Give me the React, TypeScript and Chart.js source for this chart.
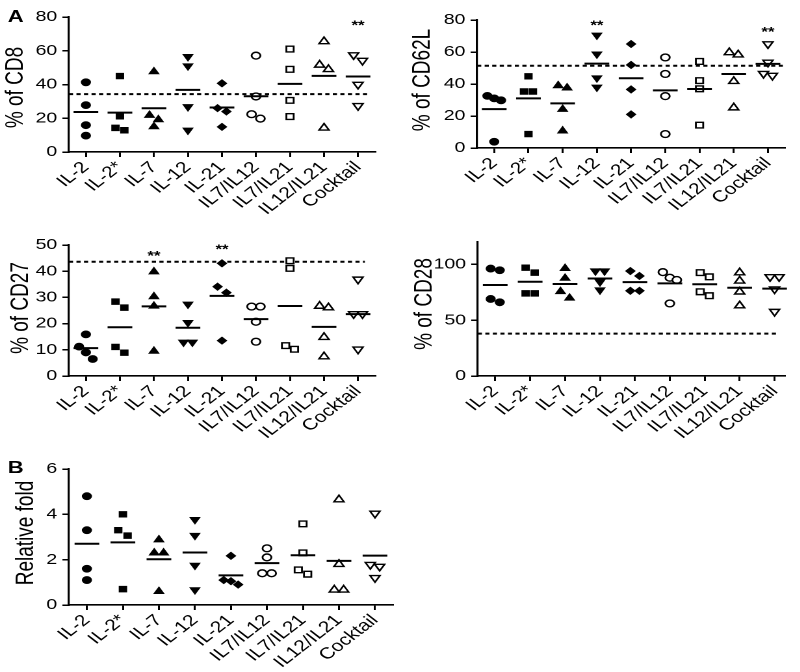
import React, { useEffect, useRef } from "react";
import { Chart, registerables } from "chart.js";

Chart.register(...registerables);
Chart.defaults.font.family = "'Liberation Sans', Arial, Helvetica, sans-serif";
Chart.defaults.font.size = 16;
Chart.defaults.color = "#000";

// ---------------- DATA ----------------
const categories = ["IL-2", "IL-2*", "IL-7", "IL-12", "IL-21", "IL7/IL12", "IL7/IL21", "IL12/IL21", "Cocktail"];

const cd8Values = [
  [41.3, 27.8, 15.9, 9.7],
  [45, 21.2, 14.3, 12.9],
  [47.6, 21.8, 19.2, 15],
  [56.5, 51, 26.8, 12.9],
  [40.7, 26, 24, 14.9],
  [57.1, 32.9, 22.4, 19.8],
  [61, 49, 30.6, 21],
  [65.5, 51.6, 49, 14.3],
  [57.5, 54.2, 40, 27.4],
];
const cd8Ref = 34.3;
const cd8StarCats = [8];
const cd8StarY = [76.4];

const cd62lValues = [
  [32.6, 31, 29.8, 3.9],
  [44.8, 35.3, 35.3, 8.7],
  [39, 37.6, 24.2, 10.7],
  [70.5, 58.7, 43.8, 38],
  [65, 51.9, 36.6, 21],
  [56.6, 46.3, 32.4, 8.7],
  [54.1, 42.1, 37, 14.3],
  [59.7, 58.3, 41.7, 25.2],
  [65, 53.5, 46.5, 45.3],
];
const cd62lRef = 51.4;
const cd62lStarCats = [3, 8];
const cd62lStarY = [78.3, 74.2];

const cd27Values = [
  [15.9, 11.2, 9, 6.5],
  [28.4, 26.1, 11.1, 8.9],
  [39.8, 30.3, 26.7, 9.5],
  [27.4, 20.4, 12.9, 12.9],
  [43, 34.1, 31.8, 13.5],
  [26.5, 26.5, 20.7, 13.1],
  [44, 41.1, 11.6, 10.2],
  [26.7, 26.1, 14.8, 7.4],
  [36.9, 23.7, 23.7, 10.2],
];
const cd27Ref = 43.6;
const cd27StarCats = [2, 4];
const cd27StarY = [46.8, 49.2];

const cd28Values = [
  [96.2, 94.7, 69, 66],
  [97, 92.6, 74, 74],
  [96.4, 87.6, 75.7, 69.8],
  [94, 94, 84.3, 77],
  [94, 89.6, 76.3, 76.3],
  [93, 88, 86, 65],
  [92.6, 88.8, 75.4, 71.9],
  [92.6, 85.2, 75.4, 63],
  [88.8, 88.8, 77.8, 57.7],
];
const cd28Ref = 37.9;

const foldValues = [
  [4.8, 3.3, 1.6, 1.1],
  [4.0, 3.3, 3.06, 0.7],
  [2.88, 2.3, 2.3, 0.6],
  [3.77, 3.07, 1.75, 0.67],
  [2.17, 1.1, 1.05, 0.9],
  [2.5, 2.1, 1.4, 1.4],
  [3.58, 2.3, 1.55, 1.36],
  [4.65, 1.8, 0.67, 0.67],
  [4.04, 1.78, 1.7, 1.2],
];

const ticksCD8 = [0, 20, 40, 60, 80];
const ticksCD27 = [0, 10, 20, 30, 40, 50];
const ticksCD28 = [0, 50, 100];
const ticksFold = [0, 2, 4, 6];

// ---------------- STYLE ----------------
const STRETCH = 1.3;
const INNER_W = 800 / STRETCH;
const FONT = "'Liberation Sans', Arial, Helvetica, sans-serif";
const TITLE_SIZE = 19;

const markerStyles = [
  { style: "circle", fill: true, rot: 0, r: 3.5 },
  { style: "rect", fill: true, rot: 0, r: 4.0 },
  { style: "triangle", fill: true, rot: 0, r: 4.4 },
  { style: "triangle", fill: true, rot: 180, r: 4.4 },
  { style: "rectRot", fill: true, rot: 0, r: 3.6 },
  { style: "circle", fill: false, rot: 0, r: 3.4 },
  { style: "rect", fill: false, rot: 0, r: 4.0 },
  { style: "triangle", fill: false, rot: 0, r: 4.4 },
  { style: "triangle", fill: false, rot: 180, r: 4.4 },
];

type Spec = {
  box: { left: number; top: number; w: number; h: number };
  padTop: number;
  padRight: number;
  yAxisW: number;
  xAxisH: number;
  values: number[][];
  yMax: number;
  yTicks: number[];
  title: string;
  titleX: number;
  titleYOff: number;
  xMax: number;
  ref?: number;
  refEnd?: number;
  starCats?: number[];
  starY?: number[];
};

function jitter(vals: number[], thr: number): number[] {
  const idx = vals.map((_, i) => i).sort((a, b) => vals[b] - vals[a]);
  const offs = new Array(vals.length).fill(0);
  let cluster: number[] = [];
  const flush = () => {
    const n = cluster.length;
    if (n === 2) {
      offs[cluster[0]] = -0.13;
      offs[cluster[1]] = 0.13;
    } else if (n >= 3) {
      cluster.forEach((id, k) => (offs[id] = (k - (n - 1) / 2) * 0.2));
    }
    cluster = [];
  };
  idx.forEach((i) => {
    if (cluster.length && vals[cluster[cluster.length - 1]] - vals[i] >= thr) flush();
    cluster.push(i);
  });
  flush();
  return offs;
}

const mean = (a: number[]) => a.reduce((s, v) => s + v, 0) / a.length;

function buildConfig(s: Spec): any {
  const plotH = s.box.h - s.padTop - s.xAxisH;
  const thr = (s.yMax * 7) / plotH;
  const datasets: any[] = [];
  s.values.forEach((vals, ci) => {
    const offs = jitter(vals, thr);
    const st = markerStyles[ci];
    datasets.push({
      data: vals.map((v, k) => ({ x: ci + offs[k], y: v })),
      pointStyle: st.style,
      pointRotation: st.rot,
      pointRadius: st.r,
      pointBackgroundColor: st.fill ? "#000" : "#fff",
      pointBorderColor: "#000",
      pointBorderWidth: st.fill ? 0.8 : 1.4,
      showLine: false,
      clip: false,
      order: 1,
    });
  });
  datasets.push({
    data: s.values.map((vals, ci) => ({ x: ci, y: mean(vals) })),
    pointStyle: "line",
    pointRadius: 9.5,
    pointBorderWidth: 2,
    pointBorderColor: "#000",
    showLine: false,
    clip: false,
    order: 0,
  });
  if (s.ref !== undefined) {
    datasets.push({
      data: [
        { x: -0.5, y: s.ref },
        { x: s.refEnd, y: s.ref },
      ],
      showLine: true,
      borderColor: "#000",
      borderWidth: 2,
      borderDash: [3.2, 2.6],
      pointRadius: 0,
      clip: false,
      order: 2,
    });
  }

  const annotPlugin = {
    id: "annot",
    afterDatasetsDraw(chart: any) {
      const { ctx, scales, chartArea } = chart;
      ctx.save();
      ctx.fillStyle = "#000";
      if (s.starCats) {
        ctx.font = `bold 13px ${FONT}`;
        ctx.textAlign = "center";
        ctx.textBaseline = "middle";
        s.starCats.forEach((c, i) => {
          ctx.fillText("**", scales.x.getPixelForValue(c), scales.y.getPixelForValue(s.starY![i]) + 3);
        });
      }
      ctx.font = `${TITLE_SIZE}px ${FONT}`;
      ctx.translate(s.titleX, (chartArea.top + chartArea.bottom) / 2 + s.titleYOff);
      ctx.rotate(-Math.PI / 2);
      ctx.textAlign = "center";
      ctx.textBaseline = "middle";
      ctx.fillText(s.title, 0, 0);
      ctx.restore();
    },
  };

  return {
    type: "scatter",
    data: { datasets },
    plugins: [annotPlugin],
    options: {
      animation: false,
      responsive: true,
      maintainAspectRatio: false,
      devicePixelRatio: 2,
      events: [],
      layout: { padding: { top: s.padTop, right: s.padRight, left: 0, bottom: 0 } },
      plugins: { legend: { display: false }, tooltip: { enabled: false } },
      scales: {
        x: {
          type: "linear",
          min: -0.5,
          max: s.xMax,
          bounds: "data",
          afterBuildTicks: (sc: any) => {
            sc.ticks = categories.map((_, i) => ({ value: i }));
          },
          afterFit: (sc: any) => {
            sc.height = s.xAxisH;
          },
          ticks: {
            autoSkip: false,
            minRotation: 45,
            maxRotation: 45,
            padding: 1,
            color: "#000",
            font: { family: FONT, size: 16 },
            callback: (v: number) => categories[v] ?? "",
          },
          grid: { drawOnChartArea: false, drawTicks: true, tickLength: 5, color: "#000", tickColor: "#000", lineWidth: 1.5 },
          border: { display: true, color: "#000", width: 1.6 },
        },
        y: {
          type: "linear",
          min: 0,
          max: s.yMax,
          bounds: "data",
          afterBuildTicks: (sc: any) => {
            sc.ticks = s.yTicks.map((v) => ({ value: v }));
          },
          afterFit: (sc: any) => {
            sc.width = s.yAxisW;
          },
          ticks: { padding: 4, color: "#000", font: { family: FONT, size: 15 }, callback: (v: number) => String(v) },
          grid: { drawOnChartArea: false, drawTicks: true, tickLength: 5, color: "#000", tickColor: "#000", lineWidth: 1.5 },
          border: { display: true, color: "#000", width: 1.6 },
          title: { display: false },
        },
      },
    },
  };
}

const specs: Spec[] = [
  {
    box: { left: 0, top: 0, w: 300, h: 225 },
    padTop: 17, padRight: 9, yAxisW: 53, xAxisH: 73,
    values: cd8Values, yMax: 80, yTicks: ticksCD8, title: "% of CD8", titleX: 12.5, titleYOff: 3,
    xMax: 8.5, ref: cd8Ref, refEnd: 8.27, starCats: cd8StarCats, starY: cd8StarY,
  },
  {
    box: { left: 310, top: 0, w: INNER_W - 310, h: 225 },
    padTop: 20, padRight: INNER_W - 611.5, yAxisW: 57, xAxisH: 77,
    values: cd62lValues, yMax: 80, yTicks: ticksCD8, title: "% of CD62L", titleX: 15.5, titleYOff: -4,
    xMax: 8.5, ref: cd62lRef, refEnd: 8.5, starCats: cd62lStarCats, starY: cd62lStarY,
  },
  {
    box: { left: 0, top: 225, w: 300, h: 225 },
    padTop: 20, padRight: 11.5, yAxisW: 53, xAxisH: 74,
    values: cd27Values, yMax: 50, yTicks: ticksCD27, title: "% of CD27", titleX: 16.5, titleYOff: -2.5,
    xMax: 8.5, ref: cd27Ref, refEnd: 8.2, starCats: cd27StarCats, starY: cd27StarY,
  },
  {
    box: { left: 310, top: 225, w: INNER_W - 310, h: 225 },
    padTop: 17, padRight: INNER_W - 606, yAxisW: 57.5, xAxisH: 74,
    values: cd28Values, yMax: 120, yTicks: ticksCD28, title: "% of CD28", titleX: 17, titleYOff: -5,
    xMax: 8.3, ref: cd28Ref, refEnd: 8.05,
  },
  {
    box: { left: 0, top: 450, w: 315, h: 222 },
    padTop: 19, padRight: 12.7, yAxisW: 53, xAxisH: 67,
    values: foldValues, yMax: 6, yTicks: ticksFold, title: "Relative fold", titleX: 20.5, titleYOff: -4,
    xMax: 8.5,
  },
];

function Panel({ spec }: { spec: Spec }) {
  const ref = useRef<HTMLCanvasElement>(null);
  useEffect(() => {
    const chart = new Chart(ref.current as HTMLCanvasElement, buildConfig(spec));
    return () => chart.destroy();
  }, [spec]);
  const { left, top, w, h } = spec.box;
  return (
    <div style={{ position: "absolute", left, top, width: w, height: h }}>
      <canvas ref={ref} style={{ display: "block" }} />
    </div>
  );
}

const letterStyle: React.CSSProperties = {
  position: "absolute",
  fontFamily: FONT,
  fontWeight: "bold",
  fontSize: 17,
  lineHeight: "17px",
  color: "#000",
};

export default function App() {
  return (
    <div
      style={{
        position: "absolute",
        left: 0,
        top: 0,
        width: INNER_W,
        height: 672,
        transform: `scaleX(${STRETCH})`,
        transformOrigin: "0 0",
        background: "#fff",
        overflow: "hidden",
      }}
    >
      {specs.map((s, i) => (
        <Panel key={i} spec={s} />
      ))}
      <div style={{ ...letterStyle, left: 6, top: 7.5 }}>A</div>
      <div style={{ ...letterStyle, left: 6, top: 458.5 }}>B</div>
    </div>
  );
}
